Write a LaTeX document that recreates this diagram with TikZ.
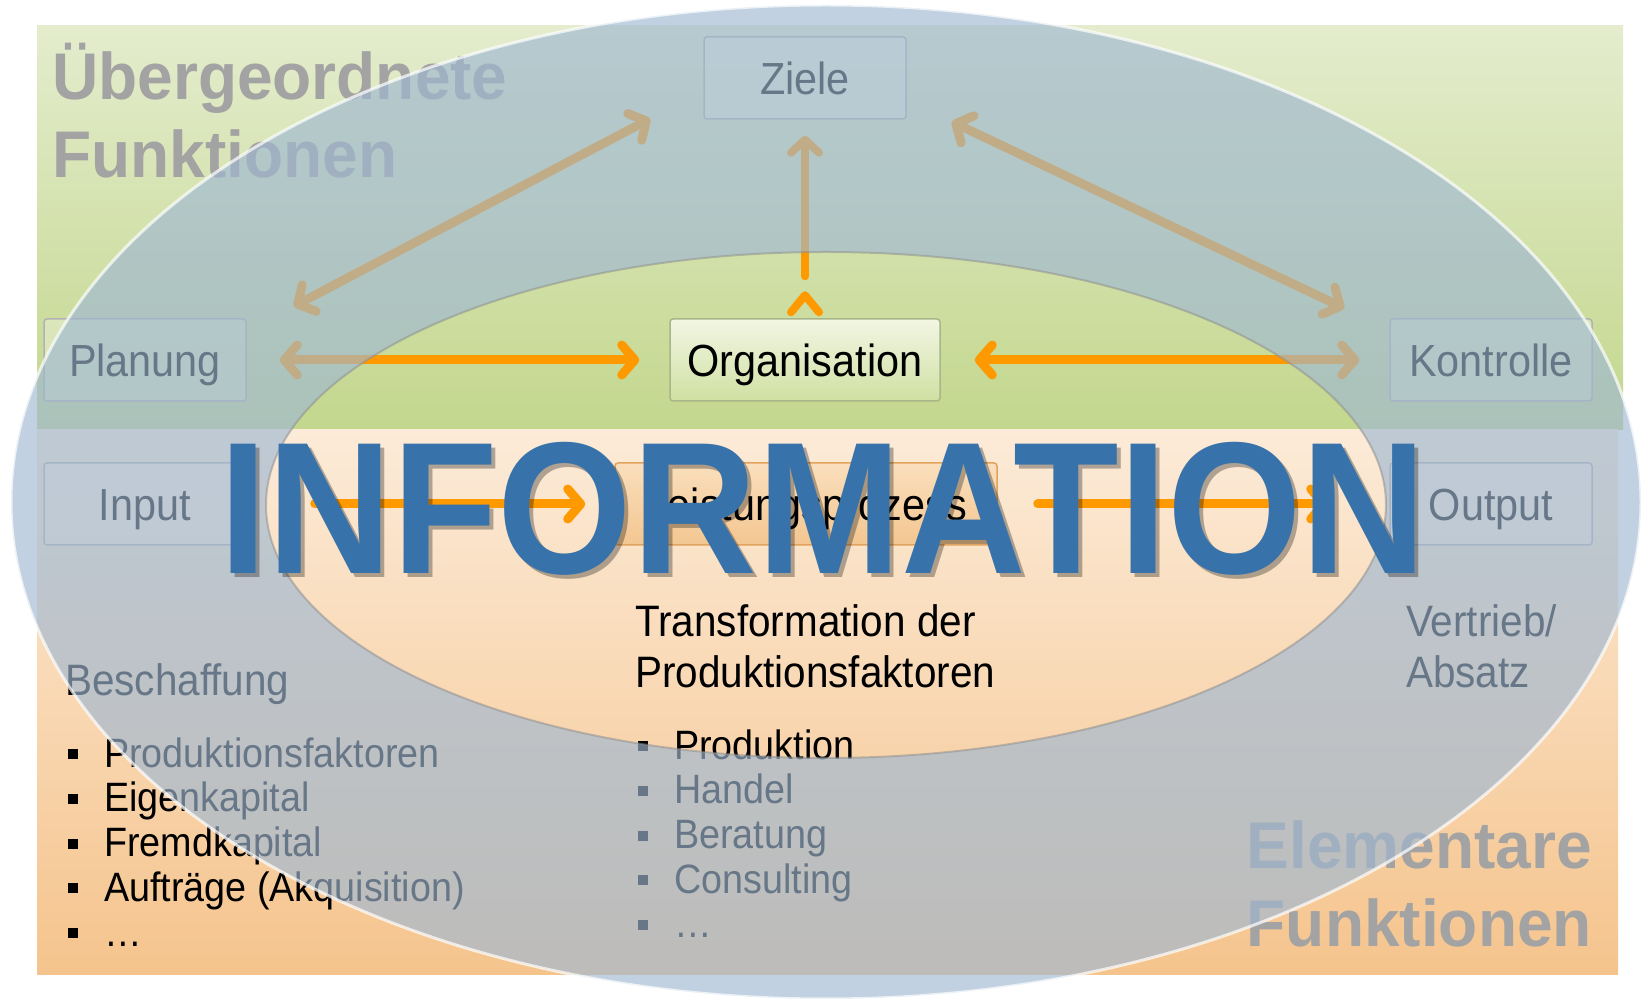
\documentclass[tikz,border=0pt]{standalone}
\usepackage{fontspec}
\setmainfont{Liberation Sans}[FakeStretch=0.92]
\newfontfamily\labelschrift{Liberation Sans}[FakeStretch=0.97]
\usepackage{tikz}
\usetikzlibrary{arrows.meta,calc,positioning}
\definecolor{ringblau}{HTML}{9FB8D2}
\definecolor{pfeilorange}{HTML}{FF9900}
\definecolor{infoblau}{HTML}{3872AA}
\definecolor{gruenoben}{HTML}{E4ECCD}
\definecolor{gruenunten}{HTML}{C3D78D}
\definecolor{orangeoben}{HTML}{FCEBD8}
\definecolor{orangeunten}{HTML}{F5C48D}
\definecolor{labelgrau}{HTML}{A3A3A3}
\definecolor{orgoben}{HTML}{F2F6E4}
\definecolor{orgunten}{HTML}{D0E0A2}
\definecolor{orgrand}{HTML}{A8B68A}
\definecolor{lpoben}{HTML}{FADFBD}
\definecolor{lpunten}{HTML}{F3C690}
\definecolor{lprand}{HTML}{E2A35E}
\newcommand{\quadrat}{\makebox[36pt][l]{\raisebox{8pt}{\rule{10pt}{10pt}}}}
\tikzset{%
	box/.style      = {draw=black!30, line width=1.5pt, rounded corners=3pt, fill=white, fill opacity=0.3, text opacity=1, minimum width=202pt, minimum height=82pt, text height=43pt, text depth=9pt, font=\fontsize{45}{54}\selectfont}, % Funktion
	orgbox/.style   = {box, minimum width=270pt, draw=orgrand, top color=orgoben, bottom color=orgunten, fill opacity=1}, % Organisation
	lpbox/.style    = {box, minimum width=382pt, draw=lprand, top color=lpoben, bottom color=lpunten, fill opacity=1}, % Leistungsprozess
	biglabel/.style = {labelgrau, inner sep=0pt, align=left, font=\labelschrift\bfseries\fontsize{66}{78}\selectfont},
	plain/.style    = {inner sep=0pt, align=left, font=\fontsize{44}{51}\selectfont},
	liste/.style    = {inner sep=0pt, align=left, font=\fontsize{41}{44.7}\selectfont},
	infotext/.style = {inner sep=0pt, anchor=base, font=\bfseries\fontsize{188}{190}\selectfont},
	arrow/.style    = {draw=pfeilorange, line width=9pt, line cap=round, -{Straight Barb[length=13pt,width=30pt,round]}},
	twoway/.style   = {arrow, {Straight Barb[length=13pt,width=30pt,round]}-{Straight Barb[length=13pt,width=30pt,round]}},
	uparrow/.style  = {arrow, line width=8pt, -{Straight Barb[length=13pt,width=28pt,round]}},
	chevron/.style  = {draw=pfeilorange, line width=8pt, line cap=round, line join=round},
}
\begin{document}
\begin{tikzpicture}[x=1pt,y=1pt,node distance=660pt]
		\useasboundingbox (0,0) rectangle (1642,1002);
		% Hintergrund
		\shade [top color=gruenoben, bottom color=gruenunten] (37,572) rectangle (1623,976);
		\shade [top color=orangeoben, bottom color=orangeunten] (37,28) rectangle (1618,572);
		
		\node [biglabel, anchor=base west] (oben) at (52,824) {Übergeordnete\\Funktionen};
		\node [biglabel, anchor=base east, align=right] (unten) at (1592,56) {Elementare\\Funktionen};
		
		\node [box] (planung) at (145,642) {Planung};
		\node [orgbox] (org) [right of=planung] {Organisation};
		\node [box] (kontrolle) [right of=org,node distance=686pt] {Kontrolle};
		\node [box] (ziele) [above of=org,node distance=282pt] {Ziele};
		\node [box] (input) [below of=planung,node distance=144pt] {Input};
		\node [lpbox] (lp) [right of=input,node distance=661pt] {Leistungsprozess};
		\node [box] (output) [right of=lp,node distance=685pt] {Output};
		
		\node [plain, anchor=base west] (beschaffung) at (65,306) {Beschaffung};
		\node [plain, anchor=base west] (transformation) at (635,314) {Transformation der\\Produktionsfaktoren};
		\node [plain, anchor=base west] (vertrieb) at (1406,314) {Vertrieb/\\Absatz};
		\node [liste, anchor=base west] (bliste) at (68,56) {\quadrat Produktionsfaktoren\\\quadrat Eigenkapital\\\quadrat Fremdkapital\\\quadrat Aufträge (Akquisition)\\\quadrat …};
		\node [liste, anchor=base west] (tliste) at (638,64) {\quadrat Produktion\\\quadrat Handel\\\quadrat Beratung\\\quadrat Consulting\\\quadrat …};
		
		\draw [twoway, shorten <=33pt, shorten >=30pt] (planung) -- (org);
		\draw [twoway, shorten <=34pt, shorten >=30pt] (org) -- (kontrolle);
		\draw [twoway] ([xshift=47pt,yshift=12pt]planung.north east) -- ([xshift=-53pt,yshift=1pt]ziele.south west);
		\draw [twoway] ([xshift=45pt,yshift=-2pt]ziele.south east) -- ([xshift=-45pt,yshift=10pt]kontrolle.north west);
		\draw [uparrow, shorten <=42pt, shorten >=16pt] (org) -- (ziele);
		\draw [chevron] ([xshift=-14pt,yshift=6pt]org.north) -- ([yshift=23pt]org.north) -- ([xshift=14pt,yshift=6pt]org.north);
		\draw [arrow, shorten <=68pt, shorten >=29pt] (input) -- (lp);
		\draw [arrow, shorten <=40pt, shorten >=61pt] (lp) -- (output);
		
		% Ring
		\fill [ringblau, fill opacity=0.65, even odd rule] (826,500) ellipse [x radius=815pt, y radius=497pt] (826,497) ellipse [x radius=560pt, y radius=253pt];
		\draw [white, line width=3pt, opacity=0.7] (826,500) ellipse [x radius=815pt, y radius=497pt];
		\draw [black!45, line width=2pt, opacity=0.5] (826,497) ellipse [x radius=560pt, y radius=253pt];
		
		\node [infotext, black, opacity=0.3] (infoschatten) at (827,424) {INFORMATION};
		\node [infotext, infoblau] (info) at (823,428) {INFORMATION};
		\end{tikzpicture}
\end{document}
